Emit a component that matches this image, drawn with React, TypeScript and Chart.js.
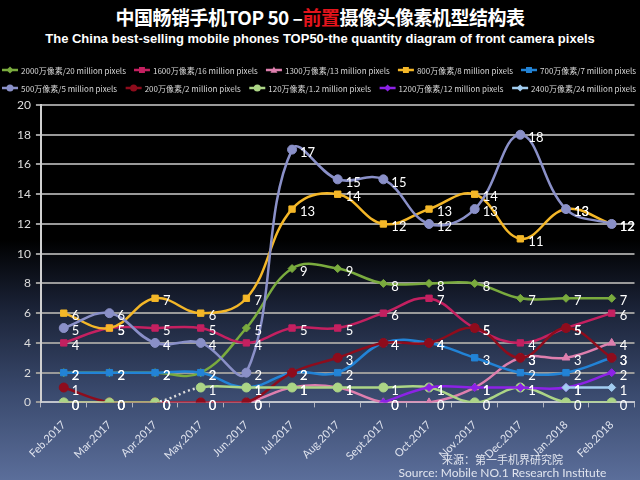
import React, { useEffect, useRef } from "react";
import { Chart, registerables } from "chart.js";
Chart.register(...registerables);

const months = ["Feb.2017", "Mar.2017", "Apr.2017", "May.2017", "Jun.2017", "Jul.2017", "Aug.2017", "Sept.2017", "Oct.2017", "Nov.2017", "Dec.2017", "Jan.2018", "Feb.2018"];
const yTicks = [0, 2, 4, 6, 8, 10, 12, 14, 16, 18, 20];

const mp20 = [2, 2, 2, 2, 5, 9, 9, 8, 8, 8, 7, 7, 7];
const mp16 = [4, 5, 5, 5, 4, 5, 5, 6, 7, 5, 4, 5, 6];
const mp13 = [0, 0, 0, 0, 0, 1, 1, 0, 0, 1, 3, 3, 4];
const mp8 = [6, 5, 7, 6, 7, 13, 14, 12, 13, 14, 11, 13, 12];
const mp7 = [2, 2, 2, 2, 1, 2, 2, 4, 4, 3, 2, 2, 3];
const mp5 = [5, 6, 4, 4, 2, 17, 15, 15, 12, 13, 18, 13, 12];
const mp2 = [1, 0, 0, 0, 0, 2, 3, 4, 4, 5, 3, 5, 3];
const mp12 = [0, 0, 0, 1, 1, 1, 1, 1, 1, 0, 1, 0, 0];
const mp120 = [null, null, null, null, null, null, null, 0, 1, 1, 1, 1, 2];
const mp240 = [null, null, null, null, null, null, null, null, null, null, null, 1, 1];

const seriesLabels = [
  "2000万像素/20 million pixels",
  "1600万像素/16 million pixels",
  "1300万像素/13 million pixels",
  "800万像素/8 million pixels",
  "700万像素/7 million pixels",
  "500万像素/5 million pixels",
  "200万像素/2 million pixels",
  "120万像素/1.2 million pixels",
  "1200万像素/12 million pixels",
  "2400万像素/24 million pixels",
];

function mk(label: string, data: (number | null)[], color: string, pointStyle: string, order: number, extra: any = {}) {
  return {
    label,
    data,
    borderColor: color,
    backgroundColor: color,
    pointBackgroundColor: color,
    pointBorderColor: color,
    pointStyle,
    pointRadius: pointStyle === "rectRot" ? 4 : 4.5,
    pointBorderWidth: 1,
    borderWidth: 2.5,
    tension: 0.4,
    spanGaps: false,
    order,
    ...extra,
  };
}

function drawMarker(ctx: CanvasRenderingContext2D, style: string, x: number, y: number, r: number, color: string) {
  ctx.fillStyle = color;
  ctx.beginPath();
  if (style === "circle") {
    ctx.arc(x, y, r, 0, Math.PI * 2);
  } else if (style === "rect") {
    ctx.rect(x - r * 0.85, y - r * 0.85, r * 1.7, r * 1.7);
  } else if (style === "rectRot") {
    ctx.moveTo(x, y - r);
    ctx.lineTo(x + r, y);
    ctx.lineTo(x, y + r);
    ctx.lineTo(x - r, y);
    ctx.closePath();
  } else if (style === "triangle") {
    ctx.moveTo(x, y - r);
    ctx.lineTo(x + r, y + r * 0.8);
    ctx.lineTo(x - r, y + r * 0.8);
    ctx.closePath();
  }
  ctx.fill();
}

const legendPlugin = {
  id: "customLegend",
  afterDraw(chart: any) {
    const ctx: CanvasRenderingContext2D = chart.ctx;
    const ds = chart.data.datasets;
    const rows = [ds.slice(0, 5), ds.slice(5, 10)];
    const rowY = [70, 88];
    ctx.save();
    ctx.font = '8px "Noto Sans CJK SC"';
    ctx.textBaseline = "middle";
    rows.forEach((row: any[], r: number) => {
      const iconW = 16;
      const iconGap = 3;
      const widths = row.map((d) => iconW + iconGap + ctx.measureText(d.label).width);
      const total = widths.reduce((a, b) => a + b, 0);
      const gap = (634 - total) / (row.length - 1);
      let x = 2;
      row.forEach((d, i) => {
        const y = rowY[r];
        ctx.strokeStyle = d.borderColor;
        ctx.lineWidth = 2.5;
        ctx.beginPath();
        ctx.moveTo(x, y);
        ctx.lineTo(x + iconW, y);
        ctx.stroke();
        drawMarker(ctx, d.pointStyle, x + iconW / 2, y, 3.5, d.borderColor);
        ctx.fillStyle = "#d8d8d8";
        ctx.textAlign = "left";
        ctx.fillText(d.label, x + iconW + iconGap, y + 0.5);
        x += widths[i] + gap;
      });
    });
    ctx.restore();
  },
};

const labelPlugin = {
  id: "pointLabels",
  afterDatasetsDraw(chart: any) {
    const ctx: CanvasRenderingContext2D = chart.ctx;
    ctx.save();
    ctx.font = '13px Lato';
    ctx.fillStyle = "#ffffff";
    ctx.textAlign = "left";
    ctx.textBaseline = "middle";
    chart.data.datasets.forEach((d: any, di: number) => {
      const meta = chart.getDatasetMeta(di);
      meta.data.forEach((pt: any, i: number) => {
        const v = d.data[i];
        if (v === null || v === undefined) return;
        ctx.fillText(String(v), pt.x + 8, pt.y + 3);
      });
    });
    ctx.restore();
  },
};

export default function App() {
  const ref = useRef<HTMLCanvasElement>(null);
  useEffect(() => {
    const datasets: any[] = [
      mk(seriesLabels[0], mp20, "#7aab3e", "rectRot", 10),
      mk(seriesLabels[1], mp16, "#c42060", "rect", 8),
      mk(seriesLabels[2], mp13, "#de7fae", "triangle", 9),
      mk(seriesLabels[3], mp8, "#f4b728", "rect", 2),
      mk(seriesLabels[4], mp7, "#2283d6", "rect", 7),
      mk(seriesLabels[5], mp5, "#8a90c8", "circle", 1),
      mk(seriesLabels[6], mp2, "#8e0c1c", "circle", 6),
      mk(seriesLabels[7], mp12, "#acd586", "circle", 5, {
        segment: { borderDash: (c: any) => (c.p0DataIndex === 2 ? [2, 3] : undefined), borderColor: (c: any) => (c.p0DataIndex === 2 ? "#dddddd" : undefined) },
      }),
      mk(seriesLabels[8], mp120, "#8c22e6", "rectRot", 4),
      mk(seriesLabels[9], mp240, "#a2cdf0", "rectRot", 3),
    ];
    const chart = new Chart(ref.current as HTMLCanvasElement, {
      type: "line",
      data: { labels: months, datasets },
      options: {
        animation: false,
        responsive: false,
        maintainAspectRatio: false,
        layout: { padding: { top: 105, left: 12, right: 2, bottom: 6 } },
        plugins: {
          legend: { display: false },
          tooltip: { enabled: false },
          title: { display: false },
        },
        scales: {
          x: {
            offset: true,
            grid: { display: true, drawOnChartArea: false, drawTicks: true, tickLength: 5, color: "#b0b4c0", offset: true },
            border: { color: "#c0c4cc", width: 2 },
            ticks: {
              color: "#dfe3ee",
              font: { family: "Lato", size: 11 },
              maxRotation: 45,
              minRotation: 45,
              padding: 11,
              autoSkip: false,
            },
          },
          y: {
            min: 0,
            max: 20,
            afterBuildTicks: (scale: any) => {
              scale.ticks = yTicks.map((v) => ({ value: v }));
            },
            ticks: { color: "#dddddd", font: { family: "Lato", size: 12 }, padding: 5 },
            grid: { color: "#9a9a9a", lineWidth: 2, tickLength: 5 },
            border: { color: "#d0d0d0", width: 2 },
          },
        },
      } as any,
      plugins: [labelPlugin, legendPlugin],
    });
    return () => chart.destroy();
  }, []);

  return (
    <div
      style={{
        position: "fixed",
        left: 0,
        top: 0,
        width: 640,
        height: 480,
        overflow: "hidden",
        background: "linear-gradient(to bottom, #000000 0%, #000000 50%, #1a2236 64%, #3a4a6e 82%, #5b6e9a 100%)",
      }}
    >
      <div
        style={{
          position: "absolute",
          top: 5,
          left: 0,
          width: 640,
          textAlign: "center",
          color: "#ffffff",
          fontFamily: '"Noto Sans CJK SC"',
          fontWeight: "bold",
          fontSize: 19,
          lineHeight: "24px",
          letterSpacing: -0.5,
        }}
      >
        中国畅销手机TOP 50 –<span style={{ color: "#e3141c" }}>前置</span>摄像头像素机型结构表
      </div>
      <div
        style={{
          position: "absolute",
          top: 30,
          left: 0,
          width: 640,
          textAlign: "center",
          color: "#ffffff",
          fontFamily: '"Liberation Sans", Arial',
          fontWeight: "bold",
          fontSize: 13,
          lineHeight: "18px",
          whiteSpace: "nowrap",
        }}
      >
        The China best-selling mobile phones TOP50-the quantity diagram of front camera pixels
      </div>
      <canvas ref={ref} width={640} height={480} style={{ position: "absolute", left: 0, top: 0 }} />
      <div
        style={{
          position: "absolute",
          top: 452,
          left: 385,
          width: 235,
          textAlign: "center",
          color: "#e0e4ee",
          fontFamily: "Lato",
          fontSize: 12,
          lineHeight: "14px",
        }}
      >
        <div style={{ fontFamily: '"Noto Sans CJK SC"', fontSize: 11 }}>来源：第一手机界研究院</div>
        <div>Source: Mobile NO.1 Research Institute</div>
      </div>
    </div>
  );
}
